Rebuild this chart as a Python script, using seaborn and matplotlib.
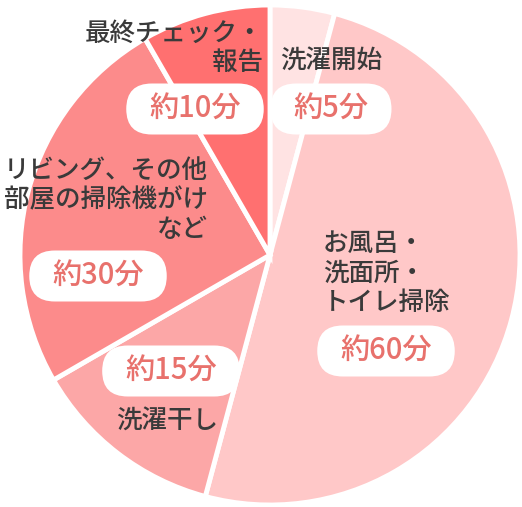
import matplotlib.pyplot as plt
import seaborn as sns
from matplotlib.patches import FancyBboxPatch

# data: clockwise from 12 o'clock
tasks = ['洗濯開始', 'お風呂・\n洗面所・\nトイレ掃除', '洗濯干し',
         'リビング、その他\n部屋の掃除機がけ\nなど', '最終チェック・\n報告']
minutes = [5, 60, 15, 30, 10]
time_labels = ['約5分', '約60分', '約15分', '約30分', '約10分']
slice_colors = ['#FFE3E3', '#FFC8C8', '#FCA7A7', '#FC8B8B', '#FF7070']

# layout in pixel coords (x from left, y from top)
W, H = 522, 507
center = (270, 252)
radius = 250
task_pos = [(280, 60, 'left'), (323, 273, 'left'), (116, 420, 'left'),
            (208, 200, 'right'), (263, 48, 'right')]
pill_pos = [(331, 109), (386, 351), (171, 371), (98, 276), (195, 109)]
pill_padx, pill_h = 23, 51

sns.set_theme(style='white')
plt.rcParams['font.family'] = ['Noto Sans CJK JP', 'DejaVu Sans']

fig = plt.figure(figsize=(W / 100, H / 100), dpi=100)
ax = fig.add_axes([0, 0, 1, 1])
ax.pie(minutes, colors=sns.color_palette(slice_colors), startangle=90,
       counterclock=False, center=center, radius=radius,
       wedgeprops=dict(edgecolor='white', linewidth=3.5))
ax.set_xlim(0, W)
ax.set_ylim(0, H)
ax.set_aspect('equal')
ax.axis('off')

for text, (x, y, ha) in zip(tasks, task_pos):
    ax.text(x, H - y, text, ha=ha, va='center', fontsize=18.4,
            fontweight='medium', color='#3a3a3a', linespacing=1.1,
            multialignment=ha)

# white pill behind each time label, sized from the text width
renderer = fig.canvas.get_renderer()
for text, (x, y) in zip(time_labels, pill_pos):
    t = ax.text(x, H - y, text, ha='center', va='center', fontsize=21,
                fontweight='medium', color='#E8716C', zorder=5)
    tw = t.get_window_extent(renderer).width
    w = tw + 2 * pill_padx
    ax.add_patch(FancyBboxPatch((x - w / 2, H - y - pill_h / 2), w, pill_h,
                                boxstyle=f'round,pad=0,rounding_size={pill_h / 2}',
                                fc='white', ec='none', zorder=4))

fig.savefig('out.png', dpi=100)
